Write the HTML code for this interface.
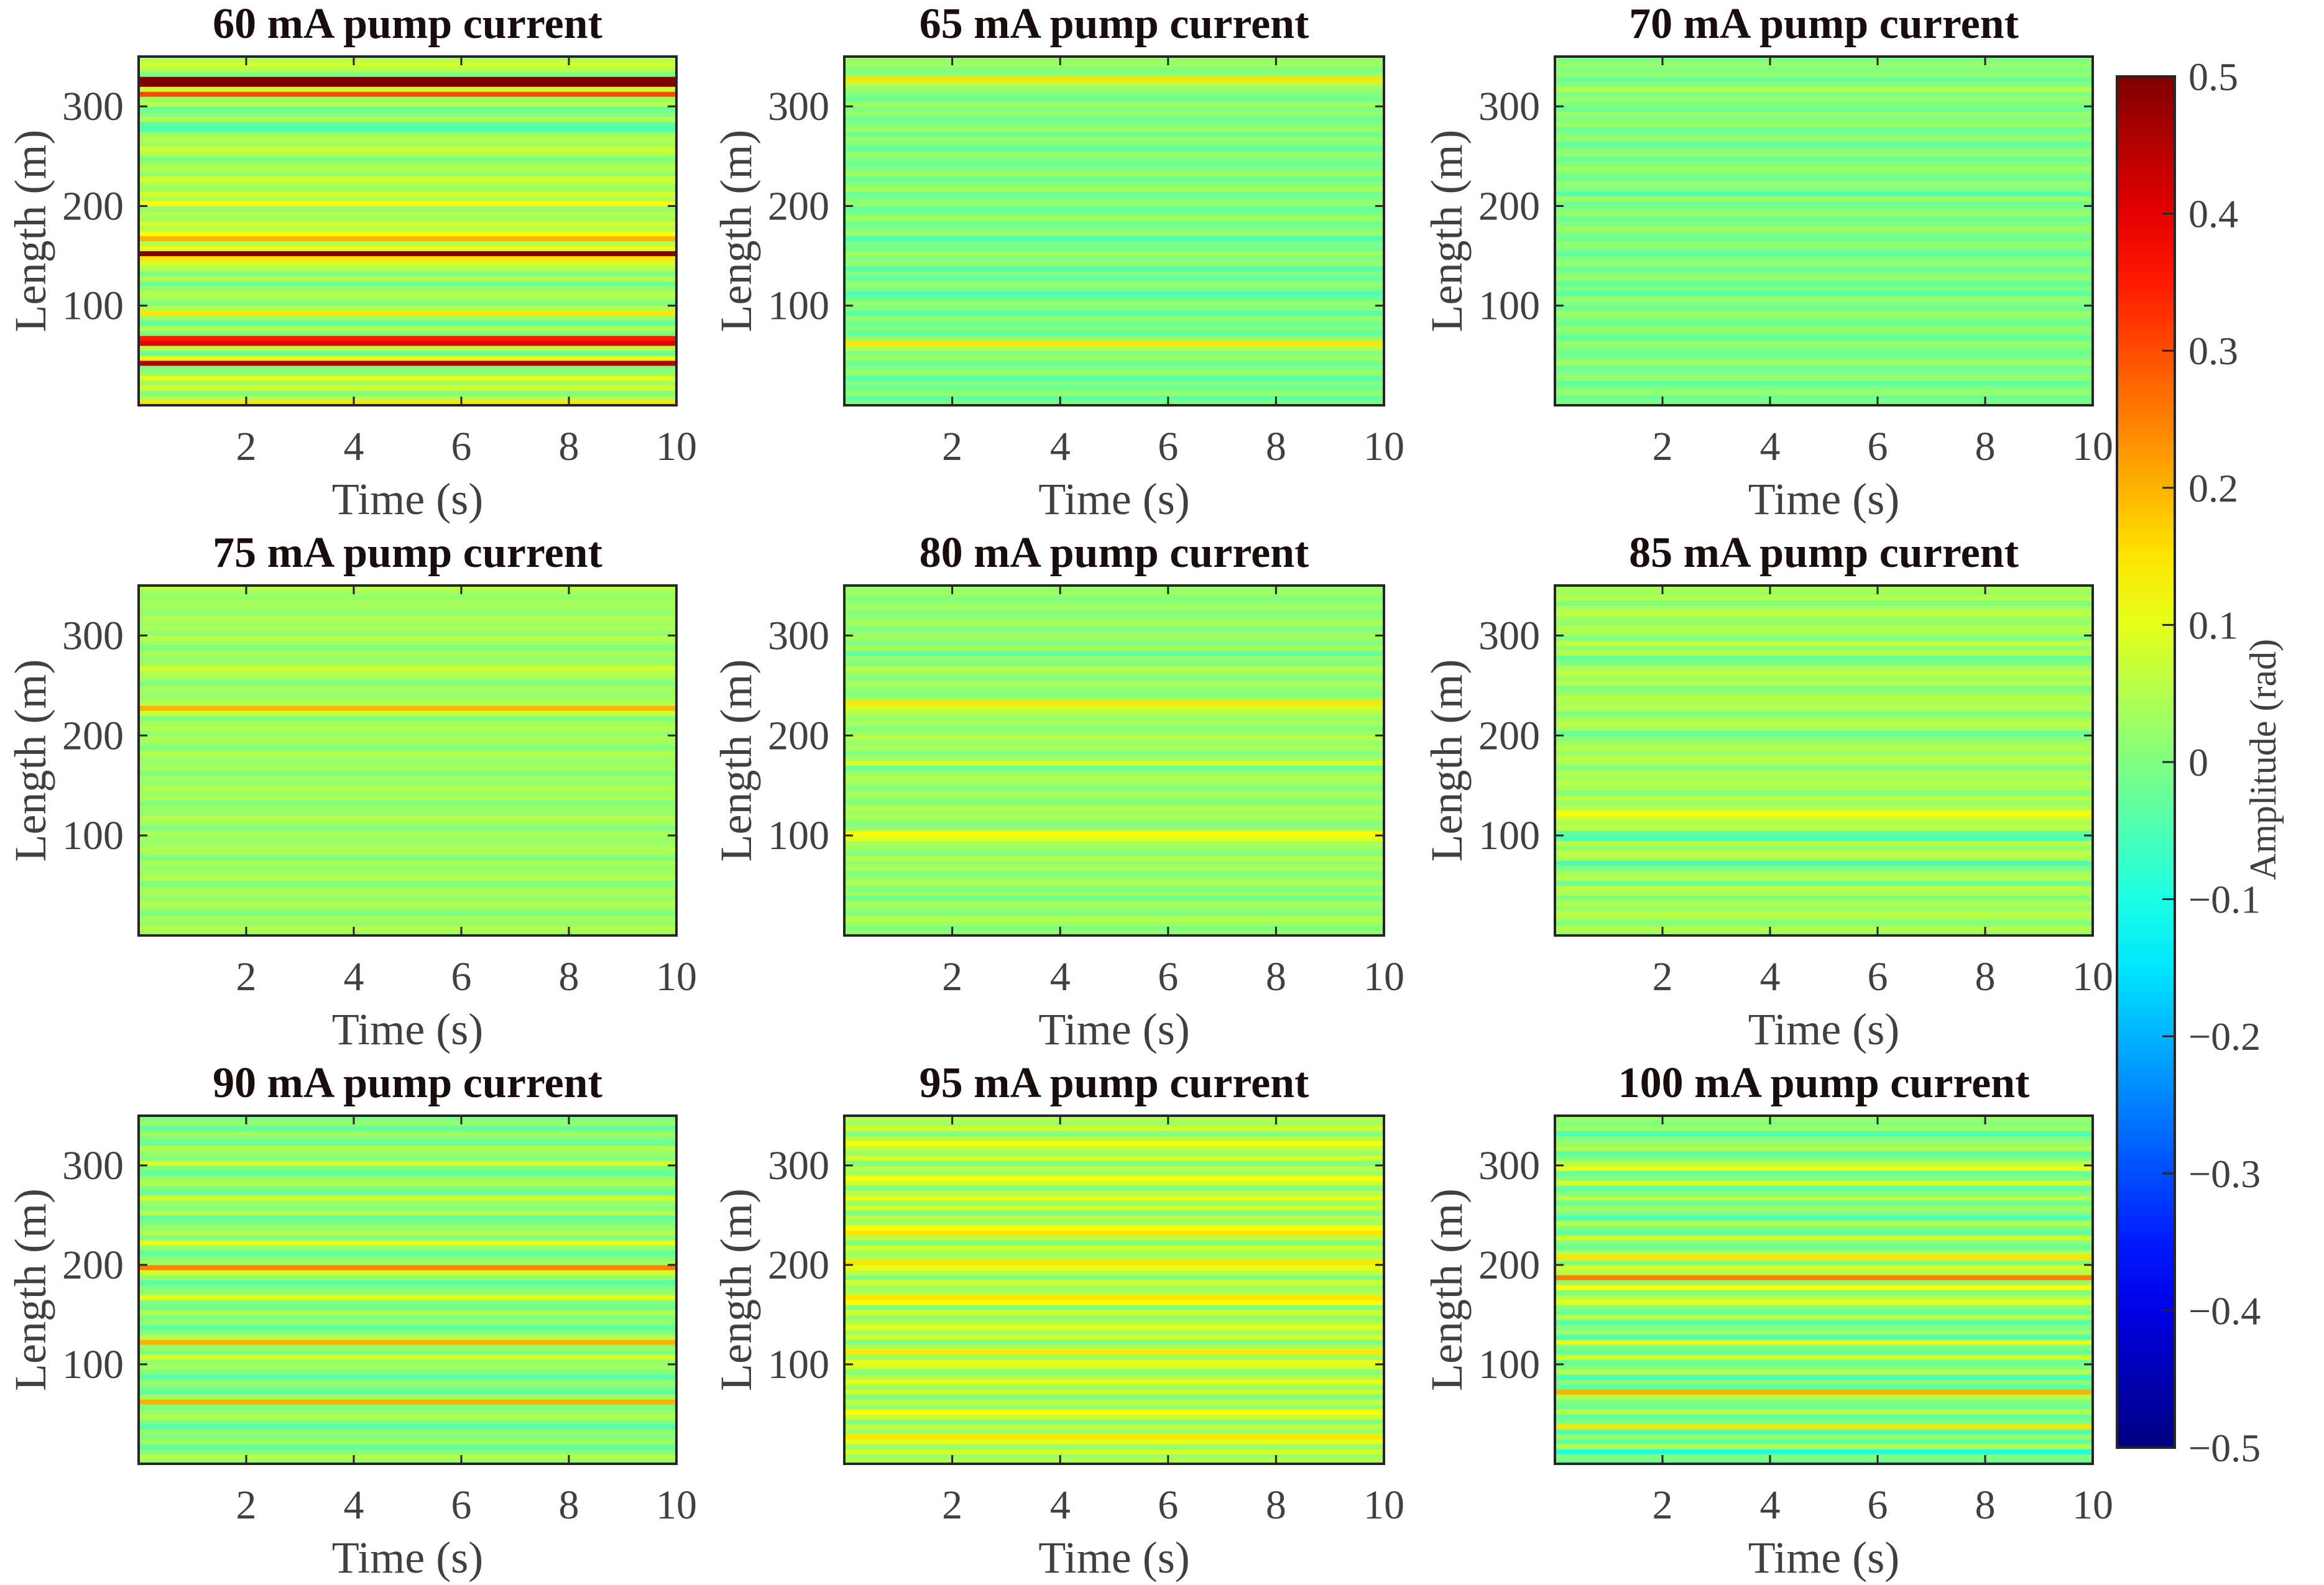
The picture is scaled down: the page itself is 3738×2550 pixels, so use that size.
<!DOCTYPE html>
<html><head><meta charset="utf-8"><style>
html,body{margin:0;padding:0;background:#fff;}
svg{display:block;font-family:"Liberation Serif",serif;}
</style></head><body>
<svg id="fig" width="3738" height="2550" viewBox="0 0 3738 2550" xmlns="http://www.w3.org/2000/svg"></svg>
<script>
const titles = ["60 mA pump current","65 mA pump current","70 mA pump current","75 mA pump current","80 mA pump current","85 mA pump current","90 mA pump current","95 mA pump current","100 mA pump current"];
const xTicks = [2,4,6,8,10];
const yTicks = [100,200,300];
const cbTicks = [0.5,0.4,0.3,0.2,0.1,0,-0.1,-0.2,-0.3,-0.4,-0.5];
const cbLabels = ["0.5","0.4","0.3","0.2","0.1","0","\u22120.1","\u22120.2","\u22120.3","\u22120.4","\u22120.5"];
// 5 m length bins, index 0 = 0–5 m (bottom)
const p60 = [0.15,0.05,0.0,0.08,0.03,0.1,0.02,0.0,0.45,0.1,-0.02,0.05,0.4,0.35,0.0,0.05,-0.03,0.02,0.15,0.05,0.0,0.03,0.05,0.02,-0.02,0.05,0.0,0.05,0.08,0.15,0.5,0.1,0.05,0.2,0.12,0.05,0.08,0.03,0.05,0.02,0.12,0.05,0.08,0.03,0.05,0.08,0.02,0.05,0.03,0.0,0.05,0.08,0.03,0.05,0.02,-0.05,-0.03,0.05,0.0,-0.02,0.05,0.03,0.3,0.08,0.5,0.5,0.0,0.05,0.08,0.05];
const p65 = [0.0,-0.03,0.02,-0.02,0.0,-0.04,0.02,0.0,-0.02,0.03,0.0,0.05,0.15,0.02,-0.03,0.0,-0.02,0.02,-0.04,0.0,0.02,-0.02,-0.05,0.0,0.02,-0.03,0.0,-0.04,0.02,0.0,0.03,-0.02,0.0,-0.05,0.02,0.0,-0.02,0.03,0.0,-0.03,0.02,0.0,-0.02,0.04,0.0,-0.02,0.03,0.0,-0.02,0.0,0.02,-0.03,0.0,0.02,-0.02,0.03,0.0,-0.02,0.02,0.0,0.03,-0.02,0.0,0.02,0.05,0.15,0.02,0.0,0.03,0.02];
const p70 = [0.0,-0.02,0.02,0.0,-0.03,0.02,0.0,-0.02,0.03,0.0,-0.02,0.0,0.02,-0.03,0.0,0.02,-0.02,0.0,0.03,-0.02,0.0,0.02,-0.04,0.0,-0.03,0.02,0.0,-0.02,0.02,0.0,-0.03,0.0,0.02,-0.02,0.0,0.03,0.0,-0.02,0.02,0.0,-0.02,0.03,-0.04,0.0,0.02,-0.02,0.0,0.03,0.0,-0.02,0.02,0.0,-0.03,0.02,0.0,-0.02,0.03,0.0,0.02,-0.02,0.0,0.02,0.0,0.05,0.0,-0.02,0.02,0.0,0.02,0.0];
const p75 = [0.03,0.05,0.02,0.04,0.0,0.03,0.05,0.02,0.04,0.03,0.0,0.05,0.03,0.02,0.04,0.0,0.03,0.05,0.02,0.03,0.04,0.0,0.03,0.05,0.02,0.03,0.0,0.04,0.03,0.05,0.02,0.03,0.0,0.04,0.02,0.03,0.05,0.0,0.03,0.04,0.02,0.05,0.03,0.0,0.08,0.2,0.05,0.03,0.02,0.04,0.0,0.03,0.05,0.08,0.03,0.02,0.04,0.0,0.03,0.05,0.02,0.04,0.03,0.05,0.02,0.03,0.04,0.02,0.03,0.05];
const p80 = [0.02,0.0,0.03,0.05,0.0,0.02,0.04,-0.02,0.03,0.0,0.05,0.02,0.0,0.04,0.02,0.05,0.0,0.03,0.04,0.1,0.12,0.02,0.0,0.04,0.03,0.05,0.0,0.02,0.04,0.0,0.03,0.05,0.02,-0.02,0.08,0.03,0.0,0.04,0.02,0.05,0.03,0.0,0.04,0.02,0.05,0.08,0.15,0.03,0.0,0.02,0.04,0.0,0.03,0.05,0.0,0.02,-0.03,0.04,0.0,0.03,0.02,0.0,0.04,0.02,0.0,0.03,0.02,0.0,0.03,0.02];
const p85 = [0.03,0.05,0.0,0.04,0.06,0.02,0.05,0.0,0.04,0.06,-0.02,0.05,0.03,0.0,-0.05,0.04,0.06,0.02,0.05,-0.05,-0.03,0.06,0.04,0.08,0.12,0.05,0.02,0.06,0.0,0.04,0.06,0.03,0.05,0.0,0.04,0.06,0.02,0.05,0.03,0.0,-0.02,0.04,0.06,0.03,0.0,0.05,0.04,0.06,0.02,0.0,0.05,0.03,0.06,0.04,0.0,-0.03,0.05,0.02,0.06,0.0,0.04,0.05,0.02,0.03,0.06,0.04,0.0,0.05,0.03,0.04];
const p90 = [0.02,0.05,0.0,-0.03,0.03,0.0,0.02,-0.04,0.0,0.05,0.02,0.0,0.2,0.03,-0.03,0.0,0.02,-0.04,0.0,0.03,0.02,0.08,0.0,0.02,0.2,0.05,0.0,-0.03,0.02,0.0,0.05,-0.02,0.0,0.1,0.02,0.0,-0.04,0.02,0.08,0.25,0.03,0.0,-0.03,0.02,0.1,0.0,0.05,0.02,0.0,-0.03,0.05,0.0,0.02,0.08,-0.02,0.0,0.05,0.02,-0.03,0.0,0.08,0.0,0.02,0.05,-0.02,0.0,0.03,-0.03,0.02,0.0];
const p95 = [0.05,0.03,0.08,0.02,0.1,0.15,0.03,0.06,0.0,0.08,0.12,0.02,0.06,0.0,0.08,0.03,0.1,0.05,0.0,0.08,0.1,0.03,0.15,0.05,0.0,0.08,0.03,0.1,0.05,0.02,0.08,0.0,0.12,0.15,0.05,0.03,0.08,0.0,0.06,0.1,0.15,0.05,0.03,0.08,0.0,0.06,0.15,0.12,0.03,0.05,0.0,0.08,0.03,0.1,0.05,0.0,0.08,0.12,0.03,0.05,0.0,0.08,0.03,0.06,0.12,0.05,0.0,0.08,0.03,0.05];
const p100 = [-0.02,0.0,-0.1,0.05,-0.03,0.02,-0.05,0.15,0.0,-0.03,0.05,-0.02,0.0,0.05,0.2,-0.03,0.0,-0.05,0.05,0.0,-0.02,0.08,-0.03,0.0,0.1,-0.05,0.02,0.0,-0.04,0.05,-0.02,0.0,0.1,0.05,0.0,0.12,0.02,0.25,0.05,0.08,0.0,0.15,0.05,-0.02,0.0,0.08,-0.03,0.0,0.05,-0.05,0.0,0.03,-0.02,0.05,0.0,-0.03,0.08,0.0,-0.02,0.1,0.05,0.0,-0.03,0.05,0.02,0.0,-0.05,0.03,0.0,0.02];
const profiles = [p60,p65,p70,p75,p80,p85,p90,p95,p100];

const NS = "http://www.w3.org/2000/svg";
const svg = document.getElementById('fig');
function mk(tag, attrs, parent){const e=document.createElementNS(NS,tag);for(const k in attrs)e.setAttribute(k,attrs[k]);(parent||svg).appendChild(e);return e;}
function cl(x){return Math.max(0,Math.min(1,x));}
function jet(v){const t=cl(v+0.5);const r=cl(1.5-Math.abs(4*t-3)),g=cl(1.5-Math.abs(4*t-2)),b=cl(1.5-Math.abs(4*t-1));return `rgb(${Math.round(r*255)},${Math.round(g*255)},${Math.round(b*255)})`;}

const colX = [[223,1088],[1358,2226],[2501,3366]];
const rowY = [[91,652],[942,1505],[1795,2355]];
const X_MAX=10, Y_MAX=350;

profiles.forEach((prof,i)=>{
  const [x0,x1]=colX[i%3], [y0,y1]=rowY[Math.floor(i/3)];
  const xs=v=>x0+(v/X_MAX)*(x1-x0);
  const ys=v=>y1-(v/Y_MAX)*(y1-y0);
  const g=mk('g',{});
  
  
  const bw=Y_MAX/prof.length;
  prof.forEach((v,j)=>{
    const r=mk('rect',{x:x0,y:ys((j+1)*bw),width:x1-x0,height:ys(j*bw)-ys((j+1)*bw)+0.6,fill:jet(v)},g);
    
    
  });
  const box=mk('rect',{x:x0,y:y0,width:x1-x0,height:y1-y0,fill:'none',stroke:'#262626','stroke-width':4},g);
  
  
  xTicks.forEach(t=>{
    const x=xs(t);
    mk('line',{x1:x,x2:x,y1:y1,y2:y1-14,stroke:'#262626','stroke-width':3},g);
    mk('line',{x1:x,x2:x,y1:y0,y2:y0+14,stroke:'#262626','stroke-width':3},g);
    const tx=mk('text',{x:x,y:y1+88,'text-anchor':'middle','font-size':66,fill:'#404040'},g);
    tx.textContent=t;
    
    
  });
  yTicks.forEach(t=>{
    const y=ys(t);
    mk('line',{x1:x0,x2:x0+14,y1:y,y2:y,stroke:'#262626','stroke-width':3},g);
    mk('line',{x1:x1,x2:x1-14,y1:y,y2:y,stroke:'#262626','stroke-width':3},g);
    const ty=mk('text',{x:x0-24,y:y+22,'text-anchor':'end','font-size':66,fill:'#404040'},g);
    ty.textContent=t;
    
    
  });
  const xl=mk('text',{x:(x0+x1)/2,y:y1+175,'text-anchor':'middle','font-size':72,fill:'#404040'},g);
  xl.textContent='Time (s)';
  
  
  const yc=(y0+y1)/2, yx=x0-150;
  const yl=mk('text',{x:yx,y:yc,'text-anchor':'middle','font-size':72,fill:'#404040',transform:`rotate(-90 ${yx} ${yc})`},g);
  yl.textContent='Length (m)';
  
  
  const tt=mk('text',{x:(x0+x1)/2,y:y0-30,'text-anchor':'middle','font-size':70,'font-weight':'bold',fill:'#1a0d0d'},g);
  tt.textContent=titles[i];
  
  
});

// colorbar
const cbx0=3405,cbx1=3498,cby0=123,cby1=2329;
const defs=mk('defs',{});
const lg=mk('linearGradient',{id:'jetg',x1:0,y1:1,x2:0,y2:0},defs);
for(let k=0;k<=20;k++){const v=-0.5+k*0.05;mk('stop',{offset:(k/20),'stop-color':jet(v)},lg);}
const cb=mk('g',{});


mk('rect',{x:cbx0,y:cby0,width:cbx1-cbx0,height:cby1-cby0,fill:'url(#jetg)',stroke:'#262626','stroke-width':4},cb);
const cs=v=>cby0+(0.5-v)*(cby1-cby0);
cbTicks.forEach((t,k)=>{
  const y=cs(t);
  mk('line',{x1:cbx1,x2:cbx1-20,y1:y,y2:y,stroke:'#262626','stroke-width':3},cb);
  const l=mk('text',{x:cbx1+22,y:y+22,'font-size':64,fill:'#404040'},cb);
  l.textContent=cbLabels[k];
  
  
});
const cbl=mk('text',{x:3660,y:1222,'text-anchor':'middle','font-size':60,fill:'#404040',transform:'rotate(-90 3660 1222)'},cb);
cbl.textContent='Amplitude (rad)';


</script>
</body></html>
